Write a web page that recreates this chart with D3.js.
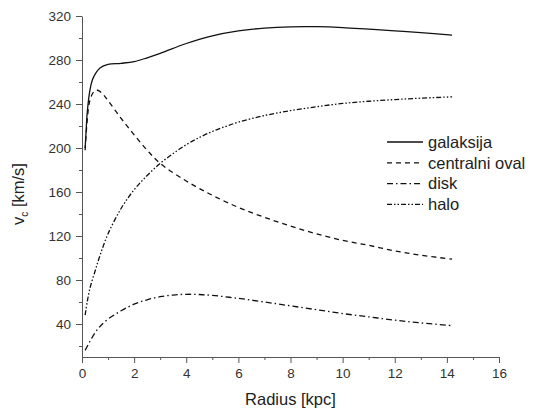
<!DOCTYPE html>
<html>
<head>
<meta charset="utf-8">
<script src="https://cdn.jsdelivr.net/npm/d3@7"></script>
<style>
  body { margin: 0; background: #fff; }
  svg { font-family: "Liberation Sans", Arial, sans-serif; display: block; }
  .axis path, .axis line { stroke: #555; }
</style>
</head>
<body>
<svg width="540" height="412"></svg>
<script>
// radius [kpc] and circular velocity [km/s]
const galaxyR = [0.12, 0.15, 0.2, 0.3, 0.4, 0.5, 0.7, 1.0, 1.5, 2.0, 2.5, 3, 4, 5, 6, 7, 8, 9, 10, 11, 12, 13, 14.2];
const galaxyV = [200, 212, 232, 252, 262, 267, 273, 276, 277, 278.5, 282, 286, 295, 302, 306.5, 309, 310.2, 310.3, 309.5, 308, 306.5, 304.8, 302.7];

const ovalR = [0.12, 0.2, 0.3, 0.45, 0.6, 0.8, 1.0, 1.5, 2.0, 2.5, 3, 4, 5, 6, 7, 8, 9, 10, 11, 12, 13, 14.2];
const ovalV = [198, 225, 243, 251, 252.5, 249, 243, 227, 212, 198, 186, 170, 157, 146, 137, 129, 122, 116, 111.5, 106.5, 102.5, 99];

const diskR = [0.12, 0.3, 0.5, 0.7, 1, 1.5, 2, 2.5, 3, 3.5, 4, 4.5, 5, 6, 7, 8, 9, 10, 11, 12, 13, 14.2];
const diskV = [16, 24, 32, 38, 44.5, 52, 58, 62, 64.8, 66.3, 67, 66.8, 66, 63.3, 60, 56.5, 53, 49.5, 46.5, 43.5, 41, 38.5];

const haloR = [0.12, 0.2, 0.3, 0.5, 0.7, 1, 1.5, 2, 2.5, 3, 3.5, 4, 4.5, 5, 5.5, 6, 7, 8, 9, 10, 11, 12, 13, 14.2];
const haloV = [48, 60, 72, 88, 103, 122, 145, 162, 175, 186, 195, 203, 209.5, 215, 219.5, 223.5, 229.5, 234, 237.5, 240.5, 242.5, 244, 245.3, 246.5];

const seriesNames = ['galaksija', 'centralni oval', 'disk', 'halo'];
const xTicks = [0, 2, 4, 6, 8, 10, 12, 14, 16];
const yTicks = [40, 80, 120, 160, 200, 240, 280, 320];

const svg = d3.select('svg');
const width = +svg.attr('width');
const height = +svg.attr('height');
const margin = {top: 16, right: 41, bottom: 55, left: 82};
const innerWidth = width - margin.left - margin.right;
const innerHeight = height - margin.top - margin.bottom;

const xScale = d3.scaleLinear().domain([0, 16]).range([0, innerWidth]);
const yScale = d3.scaleLinear().domain([10, 320]).range([innerHeight, 0]);

const g = svg.append('g')
  .attr('transform', `translate(${margin.left}, ${margin.top})`);

// tick label styling, set on the axis groups themselves
const styleAxis = sel => sel
  .attr('font-size', 13.5)
  .attr('font-family', '"Liberation Sans", Arial, sans-serif')
  .attr('fill', '#333');

// minor ticks first (no labels), then the labelled ones
const xMinor = g.append('g').attr('class', 'axis')
  .attr('transform', `translate(0, ${innerHeight})`)
  .call(d3.axisBottom(xScale).tickValues(d3.range(1, 16, 2)).tickSize(3));
xMinor.selectAll('.domain, text').remove();
g.append('g').attr('class', 'axis')
  .attr('transform', `translate(0, ${innerHeight})`)
  .call(d3.axisBottom(xScale).tickValues(xTicks).tickSize(6).tickSizeOuter(0).tickPadding(5))
  .call(styleAxis)
  .selectAll('text').attr('fill', '#333');

const yMinor = g.append('g').attr('class', 'axis')
  .call(d3.axisLeft(yScale).tickValues(d3.range(20, 320, 40)).tickSize(3));
yMinor.selectAll('.domain, text').remove();
g.append('g').attr('class', 'axis')
  .call(d3.axisLeft(yScale).tickValues(yTicks).tickSize(6).tickSizeOuter(0).tickPadding(5))
  .call(styleAxis)
  .selectAll('text').attr('fill', '#333');

const series = [
  {name: seriesNames[0], r: galaxyR, v: galaxyV, dash: null},
  {name: seriesNames[1], r: ovalR, v: ovalV, dash: '5,4'},
  {name: seriesNames[2], r: diskR, v: diskV, dash: '6,3,1.5,3'},
  {name: seriesNames[3], r: haloR, v: haloV, dash: '5,2,1.5,2,1.5,2'}
];

const line = d3.line()
  .x(d => xScale(d[0]))
  .y(d => yScale(d[1]))
  .curve(d3.curveCatmullRom.alpha(0.5));

g.selectAll('path.curve').data(series)
  .enter().append('path')
    .attr('class', 'curve')
    .attr('fill', 'none')
    .attr('stroke', '#111')
    .attr('stroke-width', 1.3)
    .attr('stroke-dasharray', d => d.dash)
    .attr('d', d => line(d.r.map((r, i) => [r, d.v[i]])));

// legend
const legend = svg.append('g').attr('transform', 'translate(387, 142)');
const items = legend.selectAll('g').data(series)
  .enter().append('g')
    .attr('transform', (d, i) => `translate(0, ${i * 20.8})`);
items.append('line')
  .attr('x1', 0).attr('x2', 36)
  .attr('stroke', '#111')
  .attr('stroke-width', 1.3)
  .attr('stroke-dasharray', d => d.dash);
items.append('text')
  .attr('x', 41)
  .attr('dy', '0.35em')
  .attr('font-size', 16.5)
  .attr('fill', '#222')
  .text(d => d.name);

// axis titles
svg.append('text')
  .attr('x', margin.left + innerWidth / 2)
  .attr('y', 405)
  .attr('text-anchor', 'middle')
  .attr('font-size', 16.5)
  .attr('fill', '#222')
  .text('Radius [kpc]');

const yLabel = svg.append('text')
  .attr('transform', `translate(24, 194) rotate(-90)`)
  .attr('text-anchor', 'middle')
  .attr('font-size', 16.5)
  .attr('fill', '#222');
yLabel.append('tspan').text('v');
yLabel.append('tspan').attr('font-size', 10).attr('dy', 4).text('c');
yLabel.append('tspan').attr('dy', -4).text(' [km/s]');
</script>
</body>
</html>
